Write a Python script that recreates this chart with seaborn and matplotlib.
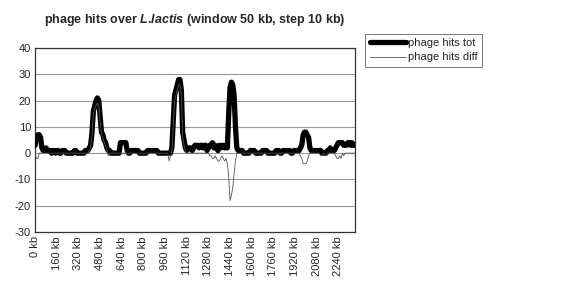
import numpy as np
import pandas as pd
import matplotlib
matplotlib.use("Agg")
import matplotlib.pyplot as plt
import seaborn as sns

#-----------------------------------------------------------------
# Data (one value every 10 kb, window 50 kb)
#-----------------------------------------------------------------

STEP_KB = 10

hits_tot = [
    3, 6, 7, 7, 6, 2, 1, 1, 2, 1, 1, 1, 0, 1, 1, 0,
    1, 1, 0, 0, 1, 1, 1, 0, 0, 0, 0, 0, 0, 1, 1, 0,
    0, 0, 0, 0, 0, 1, 1, 1, 2, 3, 8, 16, 18, 20, 21, 20,
    14, 8, 7, 5, 4, 2, 1, 1, 0, 0, 0, 0, 0, 0, 0, 4,
    4, 4, 4, 4, 1, 0, 0, 1, 1, 1, 1, 1, 1, 0, 0, 0,
    0, 0, 0, 1, 1, 1, 1, 1, 1, 1, 1, 0, 0, 0, 0, 0,
    0, 0, 0, 0, 0, 2, 12, 22, 24, 26, 28, 28, 24, 8, 5, 2,
    1, 2, 2, 2, 1, 2, 3, 3, 3, 2, 3, 3, 2, 3, 3, 1,
    2, 3, 3, 4, 2, 3, 2, 1, 3, 2, 3, 3, 2, 3, 2, 15,
    25, 27, 26, 22, 10, 2, 1, 1, 1, 1, 0, 0, 0, 0, 0, 1,
    1, 1, 1, 0, 0, 0, 0, 0, 1, 1, 1, 1, 0, 0, 0, 0,
    0, 0, 1, 1, 1, 0, 0, 1, 1, 1, 1, 1, 1, 0, 0, 1,
    1, 1, 1, 1, 2, 3, 7, 8, 8, 7, 6, 2, 1, 1, 1, 1,
    1, 1, 1, 1, 0, 0, 0, 0, 1, 1, 2, 1, 1, 1, 2, 3,
    4, 4, 4, 4, 3, 3, 3, 4, 4, 3, 4, 3, 3,
]

hits_diff = [
    0, -2, -2, 0, 0, 0, 0, 0, 0, 0, 0, 0, 0, 0, 0, 0,
    0, 0, 0, 0, 0, 0, 0, 0, 0, 0, 0, 0, 0, 0, 0, 0,
    0, 0, 0, 0, 0, 0, 0, 0, 1, 2, 7, 15, 17, 18, 19, 18,
    12, 7, 6, 4, 3, 1, -1, 0, 0, 0, 0, 0, 0, 0, 0, 0,
    0, 0, 0, 0, 0, 0, 0, 0, 0, 0, 0, 0, 0, 0, 0, 0,
    0, 0, 0, 0, 0, 0, 0, 0, 0, 0, 0, 0, 0, 0, 0, 0,
    0, 0, 0, -3, -1, 1, 10, 20, 22, 24, 26, 26, 22, 6, 3, 1,
    0, 0, 0, 0, 0, 0, 0, 0, 0, 0, 0, 0, 0, 0, 0, 0,
    0, -1, -1, -2, -2, -1, -2, -3, -3, -2, -1, -2, -3, -2, -4, -9,
    -18, -16, -13, -8, -3, 0, 0, 0, 0, 0, 0, 0, 0, 0, 0, 0,
    0, 0, 0, 0, 0, 0, 0, 0, 0, 0, 0, 0, 0, 0, 0, 0,
    0, 0, 0, 0, 0, 0, 0, 0, 0, 0, 0, 0, 0, 0, 0, 0,
    0, 0, 0, 0, -1, -2, -4, -4, -4, -3, -1, 0, 0, 0, 0, 0,
    0, 0, 0, -1, -1, 0, -1, -1, 0, 0, 0, 0, 0, 0, -1, -2,
    -2, -1, -2, 0, -1, 0, 0, 0, 0, 0, 0, 0, 0,
]

tick_kb = [0, 160, 320, 480, 640, 800, 960, 1120, 1280, 1440,
           1600, 1760, 1920, 2080, 2240]
tick_labels = [f"{k} kb" for k in tick_kb]
y_ticks = [-30, -20, -10, 0, 10, 20, 30, 40]

#-----------------------------------------------------------------
# Plot
#-----------------------------------------------------------------

sns.set_style("white")
plt.rcParams["font.family"] = ["Liberation Sans", "DejaVu Sans"]
plt.rcParams["mathtext.fontset"] = "custom"
plt.rcParams["mathtext.it"] = "Liberation Sans:italic:bold"

position_kb = np.arange(len(hits_tot)) * STEP_KB
df = pd.DataFrame({"kb": position_kb, "tot": hits_tot, "diff": hits_diff})

fig = plt.figure(figsize=(5.86, 2.89), dpi=100)
ax = fig.add_axes([0.06, 0.197, 0.546, 0.637])

sns.lineplot(data=df, x="kb", y="tot", ax=ax, color="black",
             linewidth=3.8, label="phage hits tot", zorder=3)
sns.lineplot(data=df, x="kb", y="diff", ax=ax, color="#555555",
             linewidth=0.6, label="phage hits diff", zorder=4)

ax.set_xlim(0, position_kb[-1] + 4)
ax.set_ylim(-30, 40)
ax.set_yticks(y_ticks)
ax.set_yticklabels([str(v) for v in y_ticks], fontsize=8)
ax.set_xticks(tick_kb)
ax.set_xticklabels(tick_labels, rotation=90, fontsize=8)
ax.tick_params(axis="both", length=0, pad=3)
ax.set_xlabel("")
ax.set_ylabel("")

ax.yaxis.grid(True, color="#9a9a9a", linewidth=0.8)
ax.set_axisbelow(True)
for spine in ax.spines.values():
    spine.set_color("#333333")
    spine.set_linewidth(0.9)

# italic species name, no extra gap after the dot
ax.set_title(r"phage hits over $L$.$lactis$ (window 50 kb, step 10 kb)",
             fontsize=9, fontweight="bold", pad=18)

leg = ax.legend(loc="upper left", bbox_to_anchor=(0.614, 0.903),
                bbox_transform=fig.transFigure, fontsize=8,
                frameon=True, fancybox=False, handlelength=3.3,
                handletextpad=0.1, borderpad=0.4, labelspacing=0.4)
leg.get_frame().set_edgecolor("#555555")
leg.get_frame().set_linewidth(0.7)

fig.savefig("out.png", dpi=100)
